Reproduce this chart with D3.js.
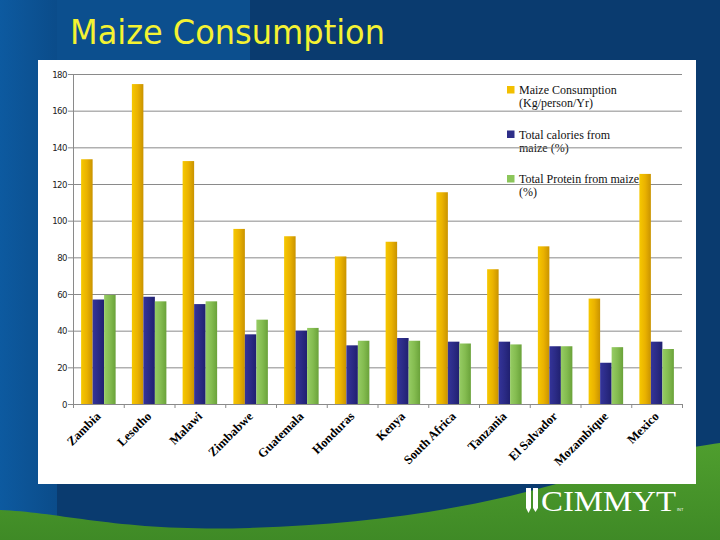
<!DOCTYPE html>
<html>
<head>
<meta charset="utf-8">
<script src="https://cdn.jsdelivr.net/npm/d3@7"></script>
<style>
  body { margin: 0; padding: 0; overflow: hidden; }
  svg { display: block; }
</style>
</head>
<body>
<svg id="chart" width="720" height="540"></svg>
<script>
// values
var countries = ["Zambia", "Lesotho", "Malawi", "Zimbabwe", "Guatemala", "Honduras",
                 "Kenya", "South Africa", "Tanzania", "El Salvador", "Mozambique", "Mexico"];
var maizeKg = [133.5, 174.5, 132.5, 95.5, 91.5, 80.5, 88.5, 115.5, 73.5, 86, 57.5, 125.5];
var caloriesPct = [57, 58.5, 54.5, 38, 40, 32, 36, 34, 34, 31.5, 22.5, 34];
var proteinPct = [59.5, 56, 56, 46, 41.5, 34.5, 34.5, 33, 32.5, 31.5, 31, 30];
var seriesNames = ["Maize Consumption (Kg/person/Yr)", "Total calories from maize (%)", "Total Protein from maize (%)"];
var yTicks = [0, 20, 40, 60, 80, 100, 120, 140, 160, 180];

var svg = d3.select("#chart"),
    width = +svg.attr("width"),
    height = +svg.attr("height");

var defs = svg.append("defs");

// ---- slide background ----
svg.append("rect").attr("width", width).attr("height", height).attr("fill", "#0a3b6f");
svg.append("rect").attr("x", 0).attr("y", 0).attr("width", 250).attr("height", 62).attr("fill", "#0c4f8e");
var leftGrad = defs.append("linearGradient").attr("id", "leftStrip").attr("x1", 0).attr("x2", 1);
leftGrad.append("stop").attr("offset", 0).attr("stop-color", "#0d5aa0");
leftGrad.append("stop").attr("offset", 1).attr("stop-color", "#0b4c8a");
svg.append("rect").attr("x", 0).attr("y", 0).attr("width", 57).attr("height", 520).attr("fill", "url(#leftStrip)");

var greenGrad = defs.append("linearGradient").attr("id", "greenBand").attr("x1", 0).attr("x2", 0).attr("y1", 0).attr("y2", 1);
greenGrad.append("stop").attr("offset", 0).attr("stop-color", "#4f9e2e");
greenGrad.append("stop").attr("offset", 1).attr("stop-color", "#3f8a26");
svg.append("path")
    .attr("d", "M0,510 C60,512 120,532 250,528 C380,524 500,505 600,470 C650,455 690,447 720,443 L720,540 L0,540 Z")
    .attr("fill", "url(#greenBand)");

// title
svg.append("text")
    .attr("x", 70).attr("y", 44)
    .attr("textLength", 315).attr("lengthAdjust", "spacingAndGlyphs")
    .style("font-family", "'DejaVu Sans', sans-serif")
    .style("font-size", "33px")
    .attr("fill", "#f4f232")
    .text("Maize Consumption");

// white chart panel
svg.append("rect").attr("x", 38).attr("y", 60).attr("width", 658).attr("height", 424).attr("fill", "#ffffff");

// CIMMYT logo
var logo = svg.append("g").attr("fill", "#ffffff");
logo.append("path").attr("d", "M526,488 L531,488 L531,508 L528.5,513 L526,508 Z");
logo.append("path").attr("d", "M533,488 L538,488 L538,508 L535.5,512 L533,508 Z");
logo.append("text")
    .attr("x", 541).attr("y", 511)
    .attr("textLength", 135).attr("lengthAdjust", "spacingAndGlyphs")
    .style("font-family", "'Liberation Serif', serif")
    .style("font-size", "29px")
    .text("CIMMYT");
logo.append("text")
    .attr("x", 677).attr("y", 511)
    .style("font-family", "'Liberation Sans', sans-serif")
    .style("font-size", "4px")
    .text("INT");

// ---- chart ----
var plotLeft = 73, plotRight = 682, plotTop = 74, plotBottom = 404;

var y = d3.scaleLinear().domain([0, 180]).range([plotBottom, plotTop]);
var x0 = d3.scaleBand().domain(countries).range([plotLeft, plotRight]).paddingInner(0.32).paddingOuter(0.16);
var x1 = d3.scaleBand().domain(d3.range(3)).range([0, x0.bandwidth()]);
var xEdge = d3.scaleLinear().domain([0, countries.length]).range([plotLeft, plotRight]);

var colors = [["#f6c800", "#eab200", "#c99300"],
              ["#34349a", "#2b2b86", "#202070"],
              ["#96cc64", "#84bc50", "#6aa23a"]];
var legendColors = ["#f2bf00", "#2e2e88", "#8cc65a"];

colors.forEach(function (c, i) {
    var g = defs.append("linearGradient").attr("id", "bar" + i).attr("x1", 0).attr("x2", 1);
    g.append("stop").attr("offset", 0).attr("stop-color", c[0]);
    g.append("stop").attr("offset", 0.5).attr("stop-color", c[1]);
    g.append("stop").attr("offset", 1).attr("stop-color", c[2]);
});

// legend (drawn first: gridlines and bars sit on top of it in the original)
var legendLines = [["Maize Consumption", "(Kg/person/Yr)"],
                   ["Total calories from", "maize (%)"],
                   ["Total Protein from maize", "(%)"]];
var legend = svg.append("g").selectAll("g")
    .data(legendLines)
    .enter().append("g")
    .attr("transform", function (d, i) { return "translate(507," + (86 + i * 44.5) + ")"; });
legend.append("rect")
    .attr("width", 7.5).attr("height", 7.5)
    .attr("fill", function (d, i) { return legendColors[i]; });
legend.append("text")
    .attr("x", 12).attr("y", 8)
    .style("font-family", "'Liberation Serif', serif")
    .style("font-size", "12px")
    .attr("fill", "#111")
    .selectAll("tspan")
    .data(function (d) { return d; })
    .enter().append("tspan")
    .attr("x", 12)
    .attr("dy", function (d, i) { return i === 0 ? 0 : 13; })
    .text(function (d) { return d; });

// gridlines
svg.append("g").selectAll("line")
    .data(yTicks.filter(function (t) { return t > 0; }))
    .enter().append("line")
    .attr("x1", plotLeft).attr("x2", plotRight)
    .attr("y1", function (d) { return y(d) + 0.5; })
    .attr("y2", function (d) { return y(d) + 0.5; })
    .attr("stroke", "#8a8a8a").attr("stroke-width", 1);

// bars
var table = countries.map(function (c, i) {
    return { country: c, values: [maizeKg[i], caloriesPct[i], proteinPct[i]] };
});

var groups = svg.append("g").selectAll("g")
    .data(table)
    .enter().append("g")
    .attr("transform", function (d) { return "translate(" + x0(d.country) + ",0)"; });

groups.selectAll("rect")
    .data(function (d) { return d.values; })
    .enter().append("rect")
    .attr("x", function (d, i) { return x1(i); })
    .attr("y", function (d) { return y(d); })
    .attr("width", x1.bandwidth())
    .attr("height", function (d) { return y(0) - y(d); })
    .attr("fill", function (d, i) { return "url(#bar" + i + ")"; });

// y axis
var yAxis = svg.append("g").attr("transform", "translate(" + plotLeft + ",0)");
yAxis.append("line").attr("x1", 0.5).attr("x2", 0.5).attr("y1", plotTop).attr("y2", plotBottom)
    .attr("stroke", "#8a8a8a");
var yt = yAxis.selectAll(".tick").data(yTicks).enter().append("g")
    .attr("class", "tick")
    .attr("transform", function (d) { return "translate(0," + (y(d) + 0.5) + ")"; });
yt.append("line").attr("x1", -5).attr("x2", 0).attr("stroke", "#8a8a8a");
yt.append("text")
    .attr("x", -6).attr("dy", "0.35em")
    .attr("text-anchor", "end")
    .style("font-family", "'DejaVu Sans Condensed', 'DejaVu Sans', sans-serif")
    .style("font-size", "9.5px")
    .style("letter-spacing", "-0.5px")
    .attr("fill", "#222")
    .text(function (d) { return d; });

// x axis
var xAxis = svg.append("g");
xAxis.append("line").attr("x1", plotLeft).attr("x2", plotRight)
    .attr("y1", plotBottom + 0.5).attr("y2", plotBottom + 0.5).attr("stroke", "#8a8a8a");
xAxis.selectAll(".edge").data(d3.range(countries.length + 1)).enter().append("line")
    .attr("class", "edge")
    .attr("x1", function (d) { return xEdge(d) + 0.5; })
    .attr("x2", function (d) { return xEdge(d) + 0.5; })
    .attr("y1", plotBottom).attr("y2", plotBottom + 4)
    .attr("stroke", "#8a8a8a");
xAxis.selectAll(".label").data(countries).enter().append("text")
    .attr("class", "label")
    .attr("transform", function (d) {
        return "translate(" + (x0(d) + x0.bandwidth() / 2 + 3) + "," + (plotBottom + 13) + ") rotate(-45)";
    })
    .attr("text-anchor", "end")
    .style("font-family", "'Liberation Serif', serif")
    .style("font-size", "12.5px")
    .style("font-weight", "bold")
    .attr("fill", "#000")
    .text(function (d) { return d; });
</script>
</body>
</html>
